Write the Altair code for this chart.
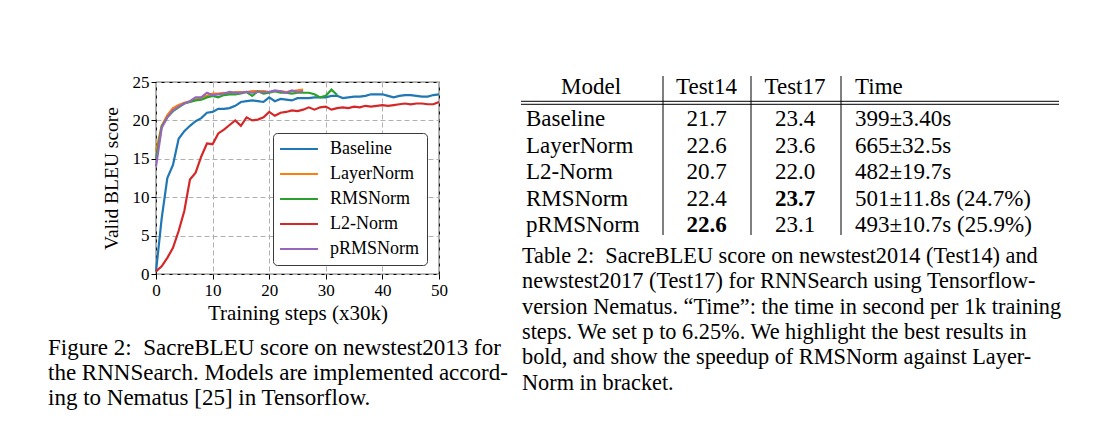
import altair as alt
import pandas as pd

# ---------------- data: validation BLEU curves ----------------
series_names = ["Baseline", "LayerNorm", "RMSNorm", "L2-Norm", "pRMSNorm"]
series_colors = ["#1f77b4", "#ff7f0e", "#2ca02c", "#d62728", "#9467bd"]

baseline = [0.3, 7.2, 12.5, 14.2, 17.6, 18.6, 19.3, 19.9, 20.3, 21.0, 21.1, 21.5, 21.5, 21.6, 21.9,
            22.4, 22.5, 22.6, 22.5, 22.4, 23.0, 22.5, 22.8, 22.7, 22.6, 22.9, 22.9, 22.9, 23.0, 23.0,
            23.0, 23.2, 23.2, 22.9, 23.0, 23.1, 23.1, 23.2, 23.4, 23.4, 23.4, 23.2, 23.0, 23.2, 23.3,
            23.3, 23.2, 23.1, 23.1, 23.3, 23.4]
layernorm = [16.0, 19.3, 20.7, 21.6, 22.0, 22.3, 22.5, 22.7, 23.0, 23.2, 23.5, 23.5, 23.6, 23.5, 23.7,
             23.7, 23.7, 23.8, 23.8, 23.8, 23.7, 23.8, 23.8, 23.7, 23.8, 23.9, 24.0]
rmsnorm = [15.0, 19.2, 20.4, 21.2, 21.7, 22.2, 22.4, 22.6, 22.7, 23.0, 23.2, 23.0, 23.3, 23.4, 23.4,
           23.5, 23.7, 23.2, 23.8, 23.5, 23.6, 23.8, 23.6, 23.6, 23.5, 23.6, 23.6, 23.6, 23.4, 23.0,
           23.2, 24.0, 23.3]
l2norm = [0.35, 1.0, 2.1, 3.4, 5.6, 8.2, 12.3, 13.2, 15.3, 17.0, 16.9, 18.3, 18.8, 19.4, 20.0,
          19.3, 20.4, 20.0, 20.1, 20.4, 21.1, 20.6, 21.0, 21.1, 21.3, 21.2, 21.4, 21.7, 21.4, 21.7,
          21.8, 21.4, 21.6, 21.7, 21.6, 21.8, 21.7, 21.9, 21.8, 21.9, 22.0, 21.9, 22.0, 22.1, 22.2,
          22.1, 22.2, 22.2, 22.1, 22.1, 22.4]
prmsnorm = [14.0, 19.0, 20.4, 21.3, 21.8, 22.2, 22.5, 23.0, 23.0, 23.6, 23.3, 23.4, 23.5, 23.7, 23.6,
            23.6, 23.7, 23.6, 23.7, 23.7, 23.7, 23.9, 23.8, 23.6, 23.9, 23.7, 23.8]

x_ticks = [0, 10, 20, 30, 40, 50]
y_ticks = [0, 5, 10, 15, 20, 25]

# ---------------- data: table ----------------
table_headers = ["Model", "Test14", "Test17", "Time"]
table_models = ["Baseline", "LayerNorm", "L2-Norm", "RMSNorm", "pRMSNorm"]
test14 = [21.7, 22.6, 20.7, 22.4, 22.6]
test17 = [23.4, 23.6, 22.0, 23.7, 23.1]
time_mean = [399, 665, 482, 501, 493]
time_std = [3.40, 32.5, 19.7, 11.8, 10.7]
speedup = [None, None, None, 24.7, 25.9]
best14 = "pRMSNorm"
best17 = "RMSNorm"

fig_caption = [
    "Figure 2:\u00a0\u00a0SacreBLEU score on newstest2013 for",
    "the RNNSearch. Models are implemented accord-",
    "ing to Nematus [25] in Tensorflow.",
]
tab_caption = [
    "Table 2:\u00a0\u00a0SacreBLEU score on newstest2014 (Test14) and",
    "newstest2017 (Test17) for RNNSearch using Tensorflow-",
    "version Nematus. \u201cTime\u201d: the time in second per 1k training",
    "steps. We set p to 6.25%. We highlight the best results in",
    "bold, and show the speedup of RMSNorm against Layer-",
    "Norm in bracket.",
]

SERIF = "Liberation Serif"

# ---------------- line chart ----------------
recs = []
for name, vals in zip(series_names, [baseline, layernorm, rmsnorm, l2norm, prmsnorm]):
    for i, v in enumerate(vals):
        recs.append({"model": name, "step": i, "bleu": v})
df = pd.DataFrame(recs)

lines = alt.Chart(df).mark_line(strokeWidth=2.2).encode(
    x=alt.X("step:Q", scale=alt.Scale(domain=[0, 50], nice=False),
            axis=alt.Axis(values=x_ticks, title="Training steps (x30k)", labelFlush=False,
                          labelPadding=3, titlePadding=4, titleFontSize=21)),
    y=alt.Y("bleu:Q", scale=alt.Scale(domain=[0, 25], nice=False),
            axis=alt.Axis(values=y_ticks, title="Valid BLEU score", labelFlush=False,
                          labelPadding=2, titlePadding=11, titleFontSize=19.5)),
    color=alt.Color("model:N", sort=series_names,
                    scale=alt.Scale(domain=series_names, range=series_colors),
                    legend=alt.Legend(orient="none", legendX=117, legendY=51, title=None,
                                      padding=7, fillColor="white", strokeColor="#3a3a3a",
                                      cornerRadius=4, symbolType="M-4,0L4,0", symbolSize=90,
                                      symbolStrokeWidth=2.2, symbolOffset=10, labelOffset=22,
                                      labelFontSize=18, labelFont=SERIF, labelColor="black",
                                      rowPadding=7, labelLimit=300)),
).properties(
    width=283, height=192,
    title=alt.TitleParams(text=fig_caption, orient="bottom", anchor="start", frame="group",
                          dx=-108, offset=14, fontSize=23, lineHeight=25, font=SERIF,
                          fontWeight="normal", color="black"),
)

# ---------------- table ----------------
TW, TH = 538, 154
row_domain = ["header"] + table_models
yscale = alt.Scale(type="point", domain=row_domain, padding=0.41)

col_texts = [
    list(table_models),
    [f"{v:.1f}" for v in test14],
    [f"{v:.1f}" for v in test17],
    [f"{m}\u00b1{s:#.3g}s" + (f" ({p}%)" if p is not None else "") for m, s, p in zip(time_mean, time_std, speedup)],
]
col_bold = [
    [0] * 5,
    [1 if m == best14 else 0 for m in table_models],
    [1 if m == best17 else 0 for m in table_models],
    [0] * 5,
]
# layout of the table (pixel positions inside the table view)
cell_x = [5, 185.5, 274, 334]
cell_align = ["left", "center", "center", "left"]
head_x = [70, 185.5, 274, 334]
head_align = ["center", "center", "center", "left"]
sep_x = [142, 230, 320]

layers = []
for c in range(4):
    cdf = pd.DataFrame({"row": table_models, "text": col_texts[c], "bold": col_bold[c]})
    for weight, flag in [("normal", 0), ("bold", 1)]:
        sub = cdf[cdf["bold"] == flag]
        if len(sub) == 0:
            continue
        layers.append(
            alt.Chart(sub).mark_text(align=cell_align[c], baseline="middle", fontSize=23, font=SERIF,
                                     color="black", fontWeight=weight).encode(
                x=alt.value(cell_x[c]),
                y=alt.Y("row:N", scale=yscale, axis=None),
                text="text:N",
            )
        )
    hdf = pd.DataFrame({"row": ["header"], "text": [table_headers[c]]})
    layers.append(
        alt.Chart(hdf).mark_text(align=head_align[c], baseline="middle", fontSize=23, font=SERIF,
                                 color="black", yOffset=-5.9).encode(
            x=alt.value(head_x[c]),
            y=alt.Y("row:N", scale=yscale, axis=None),
            text="text:N",
        )
    )

one = alt.Data(values=[{}])
for sx in sep_x:
    layers.append(alt.Chart(one).mark_rule(color="black", strokeWidth=1).encode(
        x=alt.value(sx), y=alt.value(-6), y2=alt.value(153)))
for ry in [19.3, 22.3]:
    layers.append(alt.Chart(one).mark_rule(color="black", strokeWidth=1).encode(
        x=alt.value(0), x2=alt.value(TW), y=alt.value(ry)))

table = alt.layer(*layers).properties(
    width=TW, height=TH,
    view=alt.ViewBackground(stroke="transparent"),
    title=alt.TitleParams(text=tab_caption, orient="bottom", anchor="start", frame="group",
                          dx=1, offset=8, fontSize=22.3, lineHeight=25.3, font=SERIF,
                          fontWeight="normal", color="black"),
)

chart = alt.hconcat(lines, table, spacing=82, bounds="flush").properties(
    padding={"left": 39, "top": 64, "right": 5, "bottom": 5},
    background="white",
).configure_view(
    stroke="black", strokeWidth=1.2
).configure_axis(
    labelFont=SERIF, titleFont=SERIF, labelFontSize=17, titleFontSize=19,
    labelColor="black", titleColor="black", titleFontWeight="normal",
    tickColor="black", tickSize=5, tickWidth=1, domain=False,
    grid=True, gridColor="#b0b0b0", gridDash=[5, 3], gridWidth=1,
)

chart.save("out.html", embed_options={"renderer": "svg", "actions": False})
